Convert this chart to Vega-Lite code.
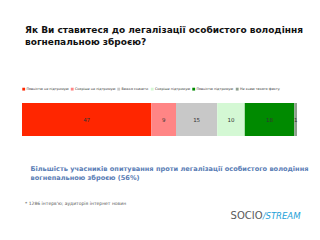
{
  "$schema": "https://vega.github.io/schema/vega-lite/v6.json",
  "background": "white",
  "padding": {"left": 22, "top": 26, "right": 10, "bottom": 0},
  "config": {"view": {"stroke": null}, "font": "DejaVu Sans"},
  "title": {
    "text": ["Як Ви ставитеся до легалізації особистого володіння", "вогнепальною зброєю?"],
    "anchor": "start", "fontSize": 9, "fontWeight": "bold", "color": "#111111",
    "font": "DejaVu Sans", "lineHeight": 12, "offset": 40, "dx": 3
  },
  "spacing": 18,
  "vconcat": [
    {
      "width": 275,
      "height": 33,
      "data": {"values": [
        {"q": "Q", "answer": "Повністю не підтримую", "pct": 47, "ord": 1},
        {"q": "Q", "answer": "Скоріше не підтримую", "pct": 9, "ord": 2},
        {"q": "Q", "answer": "Важко сказати", "pct": 15, "ord": 3},
        {"q": "Q", "answer": "Скоріше підтримую", "pct": 10, "ord": 4},
        {"q": "Q", "answer": "Повністю підтримую", "pct": 18, "ord": 5},
        {"q": "Q", "answer": "Не знаю такого факту", "pct": 1, "ord": 6}
      ]},
      "encoding": {
        "y": {"field": "q", "type": "nominal", "axis": null, "scale": {"paddingInner": 0, "paddingOuter": 0}}
      },
      "layer": [
        {
          "mark": {"type": "bar"},
          "encoding": {
            "x": {
              "field": "pct", "type": "quantitative", "stack": "zero",
              "scale": {"domain": [0, 100], "nice": false},
              "axis": {
                "title": ["Більшість учасників опитування проти легалізації особистого володіння", "вогнепальною зброєю (56%)"],
                "labels": false, "ticks": false, "domain": false, "grid": false,
                "titleFontSize": 6.6, "titleFontWeight": "bold", "titleColor": "#5a7db5",
                "titleAnchor": "start", "titleAlign": "left", "titleX": 8,
                "titlePadding": 29, "titleLineHeight": 9.5, "titleFont": "DejaVu Sans"
              }
            },
            "color": {
              "field": "answer", "type": "nominal",
              "scale": {
                "domain": ["Повністю не підтримую", "Скоріше не підтримую", "Важко сказати", "Скоріше підтримую", "Повністю підтримую", "Не знаю такого факту"],
                "range": ["#ff2600", "#ff8585", "#c8c8c8", "#d4f8d4", "#008a00", "#8f9f8f"]
              },
              "legend": {
                "orient": "top", "direction": "horizontal", "title": null,
                "symbolType": "square", "symbolSize": 8, "symbolStrokeWidth": 0,
                "labelFontSize": 3.4, "labelColor": "#333333", "columnPadding": 1.5,
                "symbolOffset": 0, "offset": 12, "labelOffset": 1, "padding": 0,
                "labelLimit": 150
              }
            },
            "order": {"field": "ord"}
          }
        },
        {
          "mark": {"type": "text", "fontSize": 5.5, "color": "#333333"},
          "encoding": {
            "x": {"field": "pct", "type": "quantitative", "stack": "zero", "bandPosition": 0.5},
            "text": {"field": "pct"},
            "order": {"field": "ord"}
          }
        }
      ]
    },
    {
      "width": 275,
      "height": 20,
      "title": {
        "text": "* 1286 інтерв'ю; аудиторія інтернет новин",
        "anchor": "start", "fontSize": 4.5, "fontWeight": "normal", "color": "#555555",
        "offset": 1, "dx": 3
      },
      "layer": [
        {
          "data": {"values": [{"word": "SOCIO"}]},
          "mark": {"type": "text", "fontSize": 10, "color": "#5a5a5a", "align": "right", "font": "DejaVu Sans"},
          "encoding": {
            "x": {"datum": 87.5, "type": "quantitative", "scale": {"domain": [0, 100], "nice": false}, "axis": null},
            "text": {"field": "word"}
          }
        },
        {
          "data": {"values": [{"word": "/STREAM"}]},
          "mark": {"type": "text", "fontSize": 8.5, "color": "#1e9fd8", "align": "left", "fontStyle": "italic", "font": "DejaVu Sans"},
          "encoding": {
            "x": {"datum": 87.5, "type": "quantitative"},
            "text": {"field": "word"}
          }
        }
      ]
    }
  ]
}
